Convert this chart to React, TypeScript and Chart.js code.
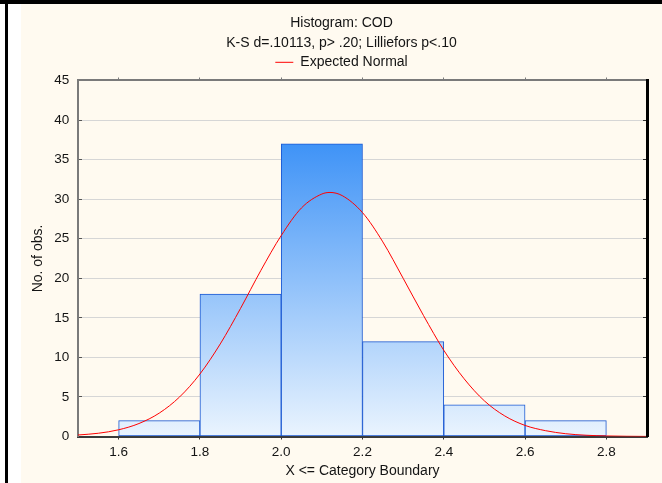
import React, { useEffect, useRef } from 'react';
import { Chart, registerables } from 'chart.js';

Chart.register(...registerables);

// ---- data ----
const titleLines = ['Histogram: COD', 'K-S d=.10113, p> .20; Lilliefors p<.10'];
const legendLabel = 'Expected Normal';
const xAxisTitle = 'X <= Category Boundary';
const yAxisTitle = 'No. of obs.';

const binEdges = [1.6, 1.8, 2.0, 2.2, 2.4, 2.6, 2.8];
const binCounts = [2, 18, 37, 12, 4, 2];

const xTicks = [1.6, 1.8, 2.0, 2.2, 2.4, 2.6, 2.8];
const xMin = 1.5;
const xMax = 2.9;
const yMin = 0;
const yMax = 45;
const yStep = 5;

const curveX = [1.5, 1.55, 1.6, 1.65, 1.7, 1.75, 1.8, 1.85, 1.9, 1.95, 2.0, 2.05, 2.1, 2.12, 2.15, 2.2, 2.25, 2.3, 2.35, 2.4, 2.45, 2.5, 2.55, 2.6, 2.65, 2.7, 2.75, 2.8, 2.85, 2.9];
const curveY = [0.19, 0.41, 0.85, 1.64, 2.96, 5.0, 7.9, 11.7, 16.2, 21.0, 25.4, 28.9, 30.65, 30.85, 30.45, 28.3, 24.6, 20.0, 15.3, 10.9, 7.3, 4.5, 2.6, 1.4, 0.74, 0.35, 0.16, 0.07, 0.03, 0.01];

// ---- styles ----
const W = 662;
const H = 483;
const FONT = '"Liberation Sans", Arial, sans-serif';
const TEXT = '#141414';
const CREAM = '#fffaf0';

export default function App() {
  const ref = useRef<HTMLCanvasElement>(null);

  useEffect(() => {
    if (!ref.current) return;

    const bgPlugin = {
      id: 'pageBg',
      beforeDraw(chart: any) {
        const ctx = chart.ctx;
        ctx.save();
        ctx.fillStyle = '#ffffff';
        ctx.fillRect(0, 0, W, H);
        ctx.fillStyle = CREAM;
        ctx.fillRect(21, 0, W - 21, H);
        ctx.fillStyle = '#000000';
        ctx.fillRect(0, 0, W, 4);
        ctx.fillRect(5, 0, 3, H);
        ctx.restore();
      },
      afterDraw(chart: any) {
        const a = chart.chartArea;
        const ctx = chart.ctx;
        ctx.save();
        ctx.fillStyle = '#000000';
        ctx.fillRect(Math.round(a.right) - 1, Math.round(a.top) - 1, 3, Math.round(a.bottom - a.top) + 2);
        ctx.restore();
      },
    };

    const barData = binCounts.map((c, i) => ({ x: (binEdges[i] + binEdges[i + 1]) / 2, y: c }));
    const lineData = curveX.map((x, i) => ({ x, y: curveY[i] }));

    const setXTicks = (s: any) => {
      s.ticks = xTicks.map((v) => ({ value: v }));
    };

    const chart = new Chart(ref.current, {
      type: 'bar',
      data: {
        datasets: [
          {
            type: 'bar',
            label: 'Counts',
            data: barData as any,
            order: 2,
            barPercentage: 1,
            categoryPercentage: 1,
            borderSkipped: false,
            borderColor: '#1a58d2',
            borderWidth: 1,
            backgroundColor: (c: any) => {
              const a = c.chart.chartArea;
              if (!a) return '#7fb6f7';
              const g = c.chart.ctx.createLinearGradient(0, a.top, 0, a.bottom);
              g.addColorStop(0, '#1a7ef5');
              g.addColorStop(1, '#eaf4fe');
              return g;
            },
          } as any,
          {
            type: 'line',
            label: legendLabel,
            data: lineData as any,
            order: 1,
            borderColor: '#ff0000',
            pointBorderColor: '#ff0000',
            backgroundColor: '#ff0000',
            borderWidth: 1,
            pointRadius: 0,
            cubicInterpolationMode: 'monotone',
            fill: false,
          } as any,
        ],
      },
      options: {
        responsive: false,
        animation: false,
        layout: { padding: { top: 4, left: 21, right: 0, bottom: 0 } },
        plugins: {
          tooltip: { enabled: false },
          title: {
            display: true,
            text: titleLines,
            color: TEXT,
            font: { family: FONT, size: 14, weight: 'normal', lineHeight: 1.4714 },
            padding: { top: 8.4, bottom: 0 },
          },
          legend: {
            display: true,
            labels: {
              filter: (item: any) => item.datasetIndex === 1,
              usePointStyle: true,
              pointStyle: 'line',
              pointStyleWidth: 18,
              color: TEXT,
              font: { family: FONT, size: 14 },
              padding: 1.7,
            },
          },
        },
        scales: {
          x: {
            type: 'linear',
            position: 'bottom',
            offset: false,
            min: xMin,
            max: xMax,
            afterBuildTicks: setXTicks,
            afterFit: (s: any) => {
              s.height = 46.5;
            },
            grid: { display: true, offset: false, drawOnChartArea: false, drawTicks: true, tickLength: 3, tickColor: '#333333' },
            border: { display: true, color: '#3a3a3a', width: 2 },
            ticks: {
              color: TEXT,
              font: { family: FONT, size: 13.5 },
              padding: 4.4,
              maxRotation: 0,
              callback: (v: any) => Number(v).toFixed(1),
            },
            title: {
              display: true,
              text: xAxisTitle,
              color: TEXT,
              font: { family: FONT, size: 14 },
              padding: { top: 0, bottom: 3.6 },
            },
          },
          x2: {
            type: 'linear',
            position: 'top',
            display: true,
            offset: false,
            min: xMin,
            max: xMax,
            afterBuildTicks: setXTicks,
            afterFit: (s: any) => {
              s.height = 1.2;
            },
            grid: { display: true, offset: false, drawOnChartArea: false, drawTicks: true, tickLength: 3, tickColor: '#7a7a7a' },
            border: { display: true, color: '#7a7a7a', width: 2 },
            ticks: { display: false },
          },
          y: {
            type: 'linear',
            position: 'left',
            min: yMin,
            max: yMax,
            afterFit: (s: any) => {
              s.width = 57;
            },
            grid: { color: '#d6d6d6', lineWidth: 1, drawTicks: true, tickLength: -4, tickColor: '#555555' },
            border: { display: true, color: '#7a7a7a', width: 2 },
            ticks: {
              stepSize: yStep,
              color: TEXT,
              font: { family: FONT, size: 13.5 },
              padding: 12.7,
            },
            title: {
              display: true,
              text: yAxisTitle,
              color: TEXT,
              font: { family: FONT, size: 14 },
              padding: { top: 8.9, bottom: 0 },
            },
          },
          y2: {
            type: 'linear',
            position: 'right',
            display: true,
            min: yMin,
            max: yMax,
            afterFit: (s: any) => {
              s.width = 15;
            },
            grid: { display: true, drawOnChartArea: false, drawTicks: true, tickLength: -4, tickColor: '#333333' },
            border: { display: true, color: '#000000', width: 2 },
            ticks: { display: false, stepSize: yStep },
          },
        },
      } as any,
      plugins: [bgPlugin],
    });

    return () => chart.destroy();
  }, []);

  return (
    <div style={{ position: 'fixed', left: 0, top: 0, width: W, height: H }}>
      <canvas ref={ref} width={W} height={H} style={{ display: 'block', width: W, height: H }} />
    </div>
  );
}
